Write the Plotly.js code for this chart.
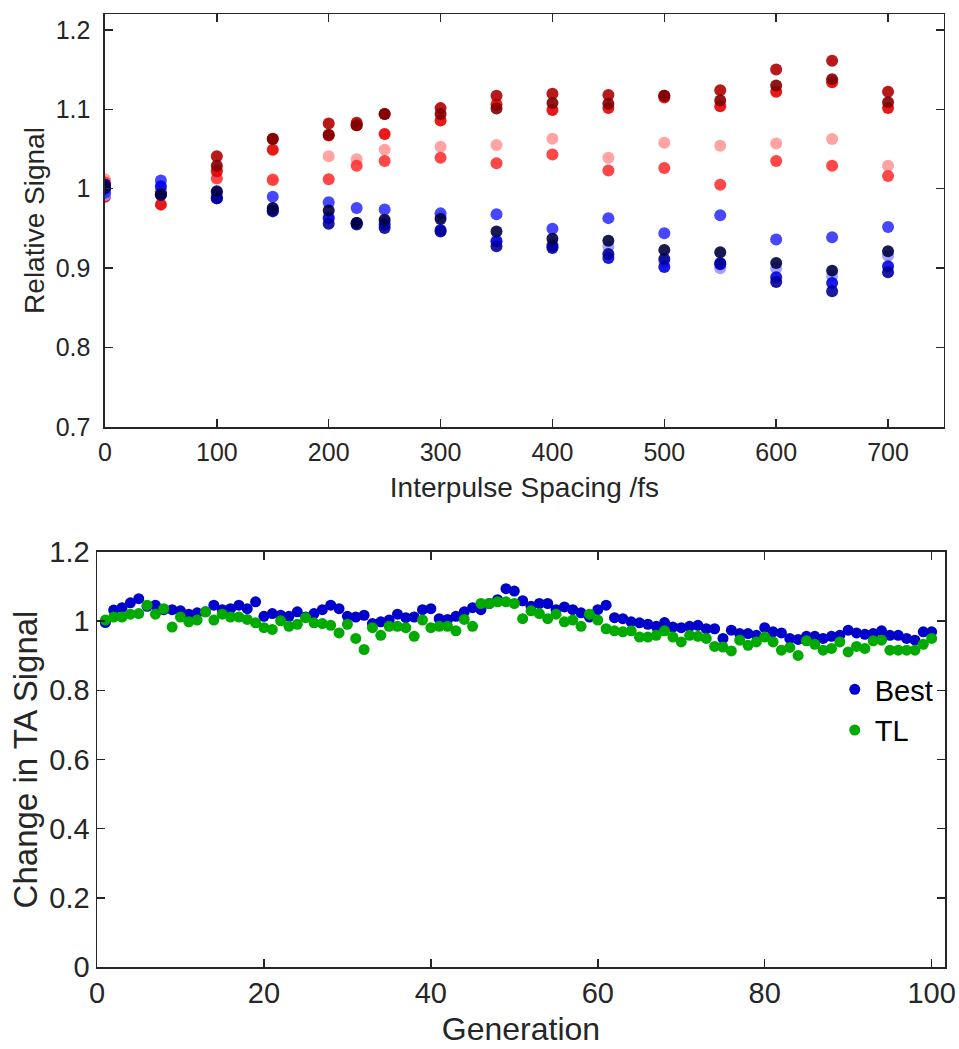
<!DOCTYPE html>
<html>
<head>
<meta charset="utf-8">
<script src="https://cdn.plot.ly/plotly-3.0.1.min.js"></script>
<style>
html,body{margin:0;padding:0;background:#fff;}
#chart{width:959px;height:1049px;}
</style>
</head>
<body>
<div id="chart"></div>
<script>
// ---------- Top panel data ----------
const spacing = [0, 50, 100, 150, 200, 225, 250, 300, 350, 400, 450, 500, 550, 600, 650, 700];

const redPink   = [1.012, 0.997, 1.025, 1.012, 1.041, 1.037, 1.049, 1.053, 1.055, 1.063, 1.039, 1.058, 1.054, 1.057, 1.0625, 1.029];
const redLight  = [1.008, 0.993, 1.013, 1.011, 1.012, 1.029, 1.035, 1.039, 1.032, 1.043, 1.023, 1.026, 1.005, 1.035, 1.029, 1.016];
const redBright = [0.990, 0.980, 1.022, 1.049, 1.067, 1.080, 1.069, 1.086, 1.106, 1.099, 1.1015, 1.115, 1.104, 1.122, 1.134, 1.1015];
const redDark   = [1.005, 0.995, 1.041, 1.063, 1.082, 1.083, 1.094, 1.1015, 1.117, 1.1195, 1.118, 1.117, 1.124, 1.150, 1.161, 1.122];
const redDeep   = [1.000, 0.997, 1.029, 1.0625, 1.068, 1.080, 1.094, 1.094, 1.101, 1.108, 1.107, 1.117, 1.111, 1.130, 1.138, 1.109];

const bluePale   = [0.992, 0.998, 0.990, 0.975, 0.965, 0.957, 0.958, 0.965, 0.935, 0.930, 0.927, 0.908, 0.900, 0.900, 0.890, 0.9157];
const blueLight  = [0.995, 1.0105, 0.995, 0.990, 0.983, 0.9757, 0.974, 0.969, 0.968, 0.9497, 0.963, 0.944, 0.9665, 0.936, 0.939, 0.9518];
const blueBright = [1.000, 1.003, 0.988, 0.973, 0.963, 0.957, 0.955, 0.948, 0.934, 0.928, 0.9128, 0.9015, 0.905, 0.8885, 0.8813, 0.9023];
const blueDark   = [1.005, 0.992, 0.988, 0.9715, 0.956, 0.955, 0.9505, 0.9463, 0.9275, 0.9254, 0.918, 0.9115, 0.9065, 0.8826, 0.8709, 0.8948];
const blueNavy   = [1.002, 0.993, 0.997, 0.9757, 0.9727, 0.957, 0.961, 0.962, 0.9463, 0.937, 0.9346, 0.923, 0.920, 0.9065, 0.8969, 0.9212];

// ---------- Bottom panel data ----------
const generation = [1,2,3,4,5,6,7,8,9,10,11,12,13,14,15,16,17,18,19,20,21,22,23,24,25,26,27,28,29,30,31,32,33,34,35,36,37,38,39,40,41,42,43,44,45,46,47,48,49,50,51,52,53,54,55,56,57,58,59,60,61,62,63,64,65,66,67,68,69,70,71,72,73,74,75,76,77,78,79,80,81,82,83,84,85,86,87,88,89,90,91,92,93,94,95,96,97,98,99,100];

const best = [0.996,1.032,1.039,1.053,1.065,1.043,1.046,1.033,1.033,1.030,
              1.020,1.024,1.027,1.046,1.033,1.036,1.046,1.036,1.056,1.014,
              1.022,1.017,1.014,1.027,1.012,1.022,1.033,1.046,1.036,1.014,
              1.012,1.017,0.993,0.998,1.003,1.020,1.010,1.012,1.033,1.036,
              1.007,1.005,1.014,1.027,1.039,1.033,1.051,1.062,1.094,1.087,
              1.059,1.043,1.051,1.051,1.033,1.041,1.033,1.024,1.012,1.033,
              1.046,1.010,1.007,0.998,0.995,0.991,0.985,0.996,0.983,0.981,
              0.985,0.988,0.978,0.978,0.950,0.974,0.964,0.964,0.959,0.981,
              0.969,0.966,0.950,0.947,0.956,0.956,0.950,0.956,0.959,0.974,
              0.966,0.962,0.964,0.972,0.959,0.959,0.950,0.945,0.969,0.969];

const tl = [1.003,1.012,1.012,1.020,1.022,1.046,1.020,1.036,0.983,1.012,
            0.998,1.003,1.027,1.003,1.020,1.012,1.012,1.005,0.995,0.981,
            0.976,1.001,0.985,0.991,1.010,0.995,0.993,0.988,0.966,0.991,
            0.950,0.918,0.981,0.959,0.985,0.985,0.981,0.956,1.003,0.981,
            0.985,0.985,0.972,1.005,0.985,1.051,1.051,1.056,1.056,1.051,
            1.007,1.030,1.022,1.007,1.020,0.998,1.003,0.985,1.020,1.003,
            0.978,0.972,0.969,0.972,0.954,0.954,0.959,0.972,0.954,0.940,
            0.959,0.956,0.950,0.927,0.925,0.914,0.945,0.930,0.940,0.954,
            0.940,0.916,0.924,0.901,0.943,0.933,0.916,0.921,0.940,0.911,
            0.927,0.921,0.943,0.945,0.916,0.916,0.916,0.916,0.933,0.950];

const topSeries = [
  {y: redPink,   color: '#FF9999'},
  {y: redLight,  color: '#FF3333'},
  {y: redBright, color: '#E60000'},
  {y: redDark,   color: '#B00000'},
  {y: redDeep,   color: '#800000'},
  {y: bluePale,  color: '#9999FF'},
  {y: blueLight, color: '#3333FF'},
  {y: blueBright,color: '#0000E6'},
  {y: blueDark,  color: '#000099'},
  {y: blueNavy,  color: '#000040'}
];

const traces = topSeries.map(s => ({
  type: 'scatter', mode: 'markers', x: spacing, y: s.y,
  xaxis: 'x', yaxis: 'y', showlegend: false, hoverinfo: 'skip',
  marker: {size: 12, color: s.color, opacity: 0.9, line: {width: 0}}
}));

traces.push({
  type: 'scatter', mode: 'markers', name: 'Best', x: generation, y: best,
  xaxis: 'x2', yaxis: 'y2',
  marker: {size: 11, color: '#0000CC', line: {width: 0}}
});
traces.push({
  type: 'scatter', mode: 'markers', name: 'TL', x: generation, y: tl,
  xaxis: 'x2', yaxis: 'y2',
  marker: {size: 11, color: '#00AA00', line: {width: 0}}
});

const axCol = '#262626';
const fontFam = 'Liberation Sans, Arial, Helvetica, sans-serif';
function axisBase(extra) {
  return Object.assign({
    showline: true, linecolor: axCol, linewidth: 1.5, mirror: 'ticks',
    ticks: 'inside', ticklen: 8, tickwidth: 1.5, tickcolor: axCol,
    showgrid: false, zeroline: false,
    tickfont: {family: fontFam, color: axCol}
  }, extra);
}

const layout = {
  width: 959, height: 1049,
  paper_bgcolor: '#ffffff', plot_bgcolor: '#ffffff',
  margin: {l: 97, r: 14, t: 14, b: 82},
  font: {family: fontFam, color: axCol},
  showlegend: true,
  legend: {
    x: 0.87, y: 0.318, xanchor: 'left', yanchor: 'top',
    bgcolor: 'rgba(0,0,0,0)', borderwidth: 0,
    font: {family: fontFam, size: 29, color: '#000000'},
    itemwidth: 30
  },
  xaxis: axisBase({
    domain: [0.0094, 0.9988], anchor: 'y', range: [0, 750],
    tickvals: [0,100,200,300,400,500,600,700],
    tickfont: {family: fontFam, size: 25, color: axCol},
    ticklabelstandoff: 2,
    title: {text: 'Interpulse Spacing /fs', font: {family: fontFam, size: 28, color: axCol}, standoff: 13}
  }),
  yaxis: axisBase({
    domain: [0.5666, 1.0], anchor: 'x', range: [0.7, 1.22],
    tickvals: [0.7,0.8,0.9,1.0,1.1,1.2],
    tickfont: {family: fontFam, size: 25, color: axCol},
    ticklabelstandoff: 8,
    title: {text: 'Relative Signal', font: {family: fontFam, size: 28, color: axCol}, standoff: 3}
  }),
  xaxis2: axisBase({
    domain: [0, 1], anchor: 'y2', range: [0, 101.6],
    tickvals: [0,20,40,60,80,100],
    tickfont: {family: fontFam, size: 29, color: axCol},
    title: {text: 'Generation', font: {family: fontFam, size: 32, color: axCol}, standoff: 9}
  }),
  yaxis2: axisBase({
    domain: [0, 0.4355], anchor: 'x2', range: [0, 1.2],
    tickvals: [0,0.2,0.4,0.6,0.8,1.0,1.2],
    tickfont: {family: fontFam, size: 29, color: axCol},
    title: {text: 'Change in TA Signal', font: {family: fontFam, size: 33, color: axCol}, standoff: 2}
  })
};

Plotly.newPlot('chart', traces, layout, {displayModeBar: false, staticPlot: true});
</script>
</body>
</html>
